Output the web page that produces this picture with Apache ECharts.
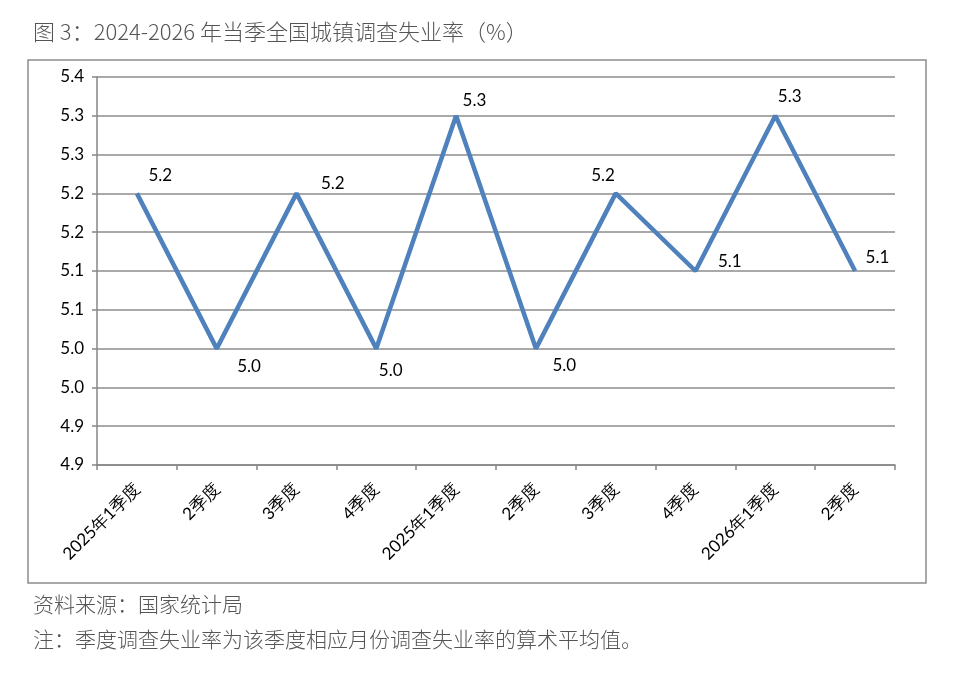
<!DOCTYPE html>
<html><head><meta charset="utf-8">
<script src="https://cdn.jsdelivr.net/npm/echarts@6/dist/echarts.min.js"></script>
<style>html,body{margin:0;padding:0;background:#fff}#c{width:960px;height:673px}</style>
</head><body><div id="c"></div>
<script>
var categories = ['2025年1季度','2季度','3季度','4季度','2025年1季度','2季度','3季度','4季度','2026年1季度','2季度'];
var rateValues = [5.2, 5.0, 5.2, 5.0, 5.3, 5.0, 5.2, 5.1, 5.3, 5.1];
var yTickLabels = ['4.9','4.9','5.0','5.0','5.1','5.1','5.2','5.2','5.3','5.3','5.4'];
var titleText = '图 3：2024-2026 年当季全国城镇调查失业率（%）';
var sourceText = '资料来源：国家统计局';
var noteText = '注：季度调查失业率为该季度相应月份调查失业率的算术平均值。';

var labelOffsets = [[11,-18],[20,18],[24,-10],[2,22],[6,-15],[16,17],[-25,-18],[22,-9],[2,-19],[10,-13]];
var yMin = 4.85, yStep = 0.05;

var chart = echarts.init(document.getElementById('c'));
var lblFont = 'Lato, "Open Sans", "Noto Sans", sans-serif';
chart.setOption({
  animation: false,
  backgroundColor: '#fff',
  grid: {left: 97, right: 65, top: 77, bottom: 208, containLabel: false},
  graphic: [
    {type: 'rect', shape: {x: 28, y: 60, width: 898, height: 523}, style: {fill: 'none', stroke: '#8c8c8c', lineWidth: 1.5}, z: -1},
    {type: 'text', left: 33, top: 21, style: {text: titleText, fill: '#555', font: '300 22px "Noto Sans CJK SC", sans-serif'}},
    {type: 'text', left: 33, top: 594, style: {text: sourceText, fill: '#555', font: '300 21px "Noto Sans CJK SC", sans-serif'}},
    {type: 'text', left: 33, top: 629, style: {text: noteText, fill: '#555', font: '300 21px "Noto Sans CJK SC", sans-serif'}}
  ],
  xAxis: {
    type: 'category', data: categories, boundaryGap: true,
    axisLine: {lineStyle: {color: '#868686', width: 1.5}},
    axisTick: {show: true, length: 5, alignWithLabel: false, lineStyle: {color: '#868686', width: 1.5}},
    axisLabel: {rotate: 45, interval: 0, margin: 21, color: '#000', fontSize: 17, fontFamily: lblFont}
  },
  yAxis: {
    type: 'value', min: yMin, max: 5.35, interval: yStep,
    axisLine: {show: true, lineStyle: {color: '#868686', width: 1.5}},
    axisTick: {show: true, length: 5, lineStyle: {color: '#868686', width: 1.5}},
    splitLine: {lineStyle: {color: '#8c8c8c', width: 1.5}},
    axisLabel: {
      margin: 13, color: '#000', fontSize: 17, fontFamily: lblFont,
      formatter: function (v) { return yTickLabels[Math.round((v - yMin) / yStep)]; }
    }
  },
  series: [{
    type: 'line', data: rateValues.map(function (v, i) {
      return {value: v, label: {offset: labelOffsets[i]}};
    }),
    symbol: 'circle', symbolSize: 1, showSymbol: true,
    itemStyle: {color: 'rgba(79,129,189,0)'},
    lineStyle: {color: '#4f81bd', width: 4.5},
    label: {show: true, position: 'right', distance: 0, color: '#000', fontSize: 17, fontFamily: lblFont,
      formatter: function (p) { return p.value.toFixed(1); }}
  }]
});
</script></body></html>
